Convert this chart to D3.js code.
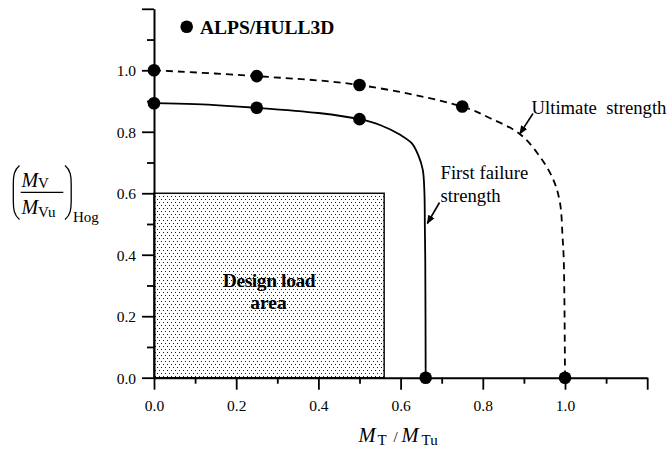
<!DOCTYPE html>
<html>
<head>
<meta charset="utf-8">
<script src="https://cdn.jsdelivr.net/npm/d3@7/dist/d3.min.js"></script>
<style>
  html, body { margin: 0; padding: 0; background: #fff; }
  svg { display: block; font-family: "Liberation Serif", "Times New Roman", serif; }
</style>
</head>
<body>
<div id="chart"></div>
<script>
// Torsion / vertical bending interaction (hogging)
// Tick values
const xMajorTicks = [0.0, 0.2, 0.4, 0.6, 0.8, 1.0, 1.2];
const xMinorTicks = [0.1, 0.3, 0.5, 0.7, 0.9, 1.1];
const yMajorTicks = [0.0, 0.2, 0.4, 0.6, 0.8, 1.0, 1.2];
const yMinorTicks = [0.1, 0.3, 0.5, 0.7, 0.9, 1.1];
const labelledTicks = [0.0, 0.2, 0.4, 0.6, 0.8, 1.0];

// First failure strength curve
const firstFailureX = [0.000, 0.100, 0.250, 0.400, 0.500, 0.550, 0.599, 0.627, 0.643, 0.654, 0.658, 0.659, 0.660, 0.661];
const firstFailureY = [0.893, 0.890, 0.878, 0.861, 0.841, 0.822, 0.790, 0.763, 0.724, 0.676, 0.600, 0.491, 0.383, 0.000];

// Ultimate strength curve
const ultimateX = [0.000, 0.250, 0.500, 0.750, 0.818, 0.890, 0.939, 0.972, 0.988, 0.994, 0.997, 1.000];
const ultimateY = [1.000, 0.981, 0.952, 0.882, 0.844, 0.793, 0.719, 0.643, 0.567, 0.459, 0.383, 0.000];

// ALPS/HULL3D results
const alpsFirstX = [0.00, 0.25, 0.50, 0.661];
const alpsFirstY = [0.893, 0.878, 0.841, 0.000];
const alpsUltX = [0.00, 0.25, 0.50, 0.75, 1.00];
const alpsUltY = [1.000, 0.981, 0.952, 0.882, 0.000];

// Design load area bounds
const designMT = 0.56;
const designMV = 0.60;

const W = 671, H = 450;
const SERIF = "Liberation Serif, Times New Roman, serif";
const svg = d3.select("#chart").append("svg").attr("width", W).attr("height", H)
  .attr("font-family", SERIF);

const x = d3.scaleLinear().domain([0, 1.2]).range([154, 647.2]);
const y = d3.scaleLinear().domain([0, 1.2]).range([377.7, 8.8]);

// dotted fill pattern (pixel-aligned dots, staggered rows)
const defs = svg.append("defs");
const pat = defs.append("pattern").attr("id", "dots")
  .attr("patternUnits", "userSpaceOnUse").attr("width", 4).attr("height", 6);
pat.append("rect").attr("width", 4).attr("height", 6).attr("fill", "#fff");
pat.append("rect").attr("x", 1).attr("y", 1).attr("width", 1).attr("height", 1).attr("fill", "#1a1a1a");
pat.append("rect").attr("x", 3).attr("y", 4).attr("width", 1).attr("height", 1).attr("fill", "#1a1a1a");

const arrowM = defs.append("marker").attr("id", "arrow")
  .attr("viewBox", "0 0 10 10").attr("refX", 9).attr("refY", 5)
  .attr("markerWidth", 9).attr("markerHeight", 9).attr("markerUnits", "userSpaceOnUse")
  .attr("orient", "auto");
arrowM.append("path").attr("d", "M0,1 L10,5 L0,9 Z").attr("fill", "#000");

// design load area
svg.append("rect")
  .attr("x", x(0)).attr("y", y(designMV))
  .attr("width", x(designMT) - x(0)).attr("height", y(0) - y(designMV))
  .attr("fill", "url(#dots)").attr("stroke", "#000").attr("stroke-width", 1.4);

const dl = svg.append("text").attr("text-anchor", "middle")
  .attr("font-weight", "bold").attr("font-size", 19.5).attr("fill", "#000");
dl.append("tspan").attr("x", 269).attr("y", 286.5).attr("letter-spacing", -0.4).text("Design load");
dl.append("tspan").attr("x", 268.5).attr("y", 308.5).text("area");

// axes
function styleAxis(g) {
  g.attr("font-family", SERIF).attr("font-size", 15.5);
  g.selectAll("path.domain").attr("stroke", "#000").attr("stroke-width", 2);
  g.selectAll(".tick line").attr("stroke", "#000").attr("stroke-width", 1.8);
  g.selectAll(".tick text").attr("fill", "#000");
}
const fmt = d => labelledTicks.includes(d) ? d3.format(".1f")(d) : "";

const xMinor = svg.append("g").attr("transform", `translate(0,${y(0)})`)
  .call(d3.axisBottom(x).tickValues(xMinorTicks).tickSize(6).tickSizeOuter(0).tickFormat(""));
xMinor.select("path.domain").remove();
styleAxis(xMinor);
const xAx = svg.append("g").attr("transform", `translate(0,${y(0)})`)
  .call(d3.axisBottom(x).tickValues(xMajorTicks).tickSize(12).tickSizeOuter(0).tickFormat(fmt));
styleAxis(xAx);
xAx.selectAll(".tick text").attr("dy", "0.71em").attr("y", 22.5);

const yMinor = svg.append("g").attr("transform", `translate(${x(0)},0)`)
  .call(d3.axisLeft(y).tickValues(yMinorTicks).tickSize(7).tickSizeOuter(0).tickFormat(""));
yMinor.select("path.domain").remove();
styleAxis(yMinor);
const yAx = svg.append("g").attr("transform", `translate(${x(0)},0)`)
  .call(d3.axisLeft(y).tickValues(yMajorTicks).tickSize(12).tickSizeOuter(0).tickFormat(fmt));
styleAxis(yAx);
yAx.selectAll(".tick text").attr("x", -18).attr("dy", "0.36em");

// curves
const line = d3.line().x(d => x(d[0])).y(d => y(d[1])).curve(d3.curveCatmullRom.alpha(0.5));
svg.append("path").datum(d3.zip(ultimateX, ultimateY))
  .attr("d", line).attr("fill", "none").attr("stroke", "#000")
  .attr("stroke-width", 1.8).attr("stroke-dasharray", "7,5");
svg.append("path").datum(d3.zip(firstFailureX, firstFailureY))
  .attr("d", line).attr("fill", "none").attr("stroke", "#000").attr("stroke-width", 1.8);

// result markers
svg.append("g").selectAll("circle")
  .data(d3.zip(alpsUltX, alpsUltY).concat(d3.zip(alpsFirstX, alpsFirstY)))
  .join("circle")
  .attr("cx", d => x(d[0])).attr("cy", d => y(d[1])).attr("r", 6.3).attr("fill", "#000");

// legend
svg.append("circle").attr("cx", 186.7).attr("cy", 26.7).attr("r", 6.3).attr("fill", "#000");
svg.append("text").attr("x", 200).attr("y", 33.5).attr("font-weight", "bold")
  .attr("font-size", 19.5).text("ALPS/HULL3D");

// annotations
svg.append("text").attr("x", 531.5).attr("y", 114).attr("font-size", 18.7)
  .attr("xml:space", "preserve").style("white-space", "pre").text("Ultimate  strength");
svg.append("line").attr("x1", 533).attr("y1", 113.5).attr("x2", x(0.890)).attr("y2", y(0.793))
  .attr("stroke", "#000").attr("stroke-width", 1.6).attr("marker-end", "url(#arrow)");

const ff = svg.append("text").attr("font-size", 18.7);
ff.append("tspan").attr("x", 440.5).attr("y", 179).text("First failure");
ff.append("tspan").attr("x", 440.5).attr("y", 201.5).text("strength");
svg.append("line").attr("x1", 439.5).attr("y1", 202.5).attr("x2", 427.3).attr("y2", 223.5)
  .attr("stroke", "#000").attr("stroke-width", 1.6).attr("marker-end", "url(#arrow)");

// x axis title
const xt = svg.append("text").attr("fill", "#000");
xt.append("tspan").attr("x", 358.5).attr("y", 442).attr("font-style", "italic").attr("font-size", 20.5).text("M");
xt.append("tspan").attr("x", 377.5).attr("y", 445).attr("font-size", 15).text("T");
xt.append("tspan").attr("x", 393.5).attr("y", 442).attr("font-size", 15).text("/");
xt.append("tspan").attr("x", 401.5).attr("y", 442).attr("font-style", "italic").attr("font-size", 20.5).text("M");
xt.append("tspan").attr("x", 421.5).attr("y", 445).attr("font-size", 15).text("Tu");

// y axis title
const yt = svg.append("g").attr("fill", "#000");
const num = yt.append("text");
num.append("tspan").attr("x", 21.5).attr("y", 187).attr("font-style", "italic").attr("font-size", 20).text("M");
num.append("tspan").attr("x", 38).attr("y", 187.5).attr("font-size", 15).text("V");
const den = yt.append("text");
den.append("tspan").attr("x", 21.5).attr("y", 214).attr("font-style", "italic").attr("font-size", 20).text("M");
den.append("tspan").attr("x", 38).attr("y", 217.3).attr("font-size", 15).text("Vu");
yt.append("line").attr("x1", 20.7).attr("x2", 63.3).attr("y1", 192.3).attr("y2", 192.3)
  .attr("stroke", "#000").attr("stroke-width", 1.2);
yt.append("path").attr("d", "M19.5,165.5 C14,170 13.3,176 13.3,184 L13.3,201 C13.3,209 14,215 19.5,219.5")
  .attr("fill", "none").attr("stroke", "#000").attr("stroke-width", 1.3);
yt.append("path").attr("d", "M65,165.5 C70.5,170 71.2,176 71.2,184 L71.2,201 C71.2,209 70.5,215 65,219.5")
  .attr("fill", "none").attr("stroke", "#000").attr("stroke-width", 1.3);
yt.append("text").attr("x", 73).attr("y", 222.3).attr("font-size", 15).text("Hog");
</script>
</body>
</html>
